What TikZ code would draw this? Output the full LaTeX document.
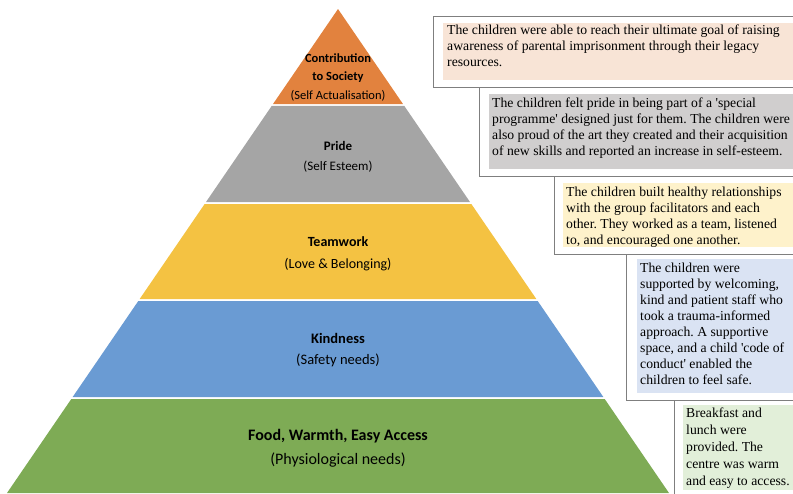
\documentclass[tikz,border=0pt]{standalone}
\usepackage{fontspec}
\setmainfont{Liberation Serif}
\newfontfamily\labelfont{Carlito}
\usetikzlibrary{positioning,calc}
\frenchspacing

\definecolor{actOrange}{HTML}{E2823E}
\definecolor{prideGray}{HTML}{A5A5A5}
\definecolor{teamGold}{HTML}{F4C242}
\definecolor{kindBlue}{HTML}{6A9BD3}
\definecolor{foodGreen}{HTML}{7EAB55}
\definecolor{actNote}{HTML}{F8E4D6}
\definecolor{prideNote}{HTML}{D0CECE}
\definecolor{teamNote}{HTML}{FEF2CB}
\definecolor{kindNote}{HTML}{DAE3F3}
\definecolor{foodNote}{HTML}{E2EFD9}
\definecolor{frameGray}{HTML}{7F7F7F}

\begin{document}
\begin{tikzpicture}[
   x=1pt, y=-1pt,
   levelname/.style={align=center, inner sep=0pt, text=black},
   noteframe/.style={draw=frameGray, fill=white, line width=0.8pt},
   notetext/.style={anchor=north west, align=left, inner sep=0pt,
      font=\fontsize{13.7}{16}\selectfont}]
   \useasboundingbox (0,0) rectangle (793,493);

   % pyramid corners
   \coordinate (apex) at (338,9);
   \coordinate (bl) at (7,493);
   \coordinate (br) at (669,493);

   \foreach \ta/\tb/\col in {0/0.1963/actOrange, 0.2004/0.3988/prideGray,
      0.4029/0.5992/teamGold, 0.6033/0.8017/kindBlue, 0.8058/1/foodGreen}
      \fill[\col] ($(apex)!\ta!(bl)$) -- ($(apex)!\tb!(bl)$)
         -- ($(apex)!\tb!(br)$) -- ($(apex)!\ta!(br)$) -- cycle;

   \node[levelname, font=\labelfont\fontsize{12.5}{18.5}\selectfont] (selfact) at (338,77)
      {\textbf{Contribution}\\\textbf{to Society}\\(Self Actualisation)};
   \node[levelname, font=\labelfont\fontsize{13}{20}\selectfont] (esteem) at (338,157)
      {\textbf{Pride}\\(Self Esteem)};
   \node[levelname, font=\labelfont\fontsize{14}{22}\selectfont] (belonging) at (338,254)
      {\textbf{Teamwork}\\(Love \& Belonging)};
   \node[levelname, font=\labelfont\fontsize{14.5}{21}\selectfont] (safety) at (338,350.5)
      {\textbf{Kindness}\\(Safety needs)};
   \node[levelname, font=\labelfont\fontsize{16}{24}\selectfont] (physio) at (338,448)
      {\textbf{Food, Warmth, Easy Access}\\(Physiological needs)};

   % note boxes, running off the right edge
   \draw[noteframe] (433,16) rectangle (800,87);
   \fill[actNote] (443,23) rectangle (800,80);
   \draw[noteframe] (479,87) rectangle (800,176);
   \fill[prideNote] (489,94) rectangle (800,169);
   \draw[noteframe] (554,176) rectangle (800,254);
   \fill[teamNote] (563,183) rectangle (800,247);
   \draw[noteframe] (626,254) rectangle (800,400);
   \fill[kindNote] (637,259) rectangle (800,393);
   \draw[noteframe] (674,400) rectangle (800,500);
   \fill[foodNote] (683,405) rectangle (800,490);

   \node[notetext] (note1) at (447,25)
      {The children were able to reach their ultimate goal of raising\\
       awareness of parental imprisonment through their legacy\\
       resources.};
   \node[notetext] (note2) at (492,98)
      {The children felt pride in being part of a \textquotesingle special\\
       programme\textquotesingle{} designed just for them. The children were\\
       also proud of the art they created and their acquisition\\
       of new skills and reported an increase in self-esteem.};
   \node[notetext] (note3) at (566,187)
      {The children built healthy relationships\\
       with the group facilitators and each\\
       other. They worked as a team, listened\\
       to, and encouraged one another.};
   \node[notetext] (note4) at (640,263)
      {The children were\\
       supported by welcoming,\\
       kind and patient staff who\\
       took a trauma-informed\\
       approach. A supportive\\
       space, and a child \textquotesingle code of\\
       conduct\textquotesingle{} enabled the\\
       children to feel safe.};
   \node[notetext, font=\fontsize{13.7}{17}\selectfont] (note5) at (686,408)
      {Breakfast and\\
       lunch were\\
       provided. The\\
       centre was warm\\
       and easy to access.};
\end{tikzpicture}
\end{document}
